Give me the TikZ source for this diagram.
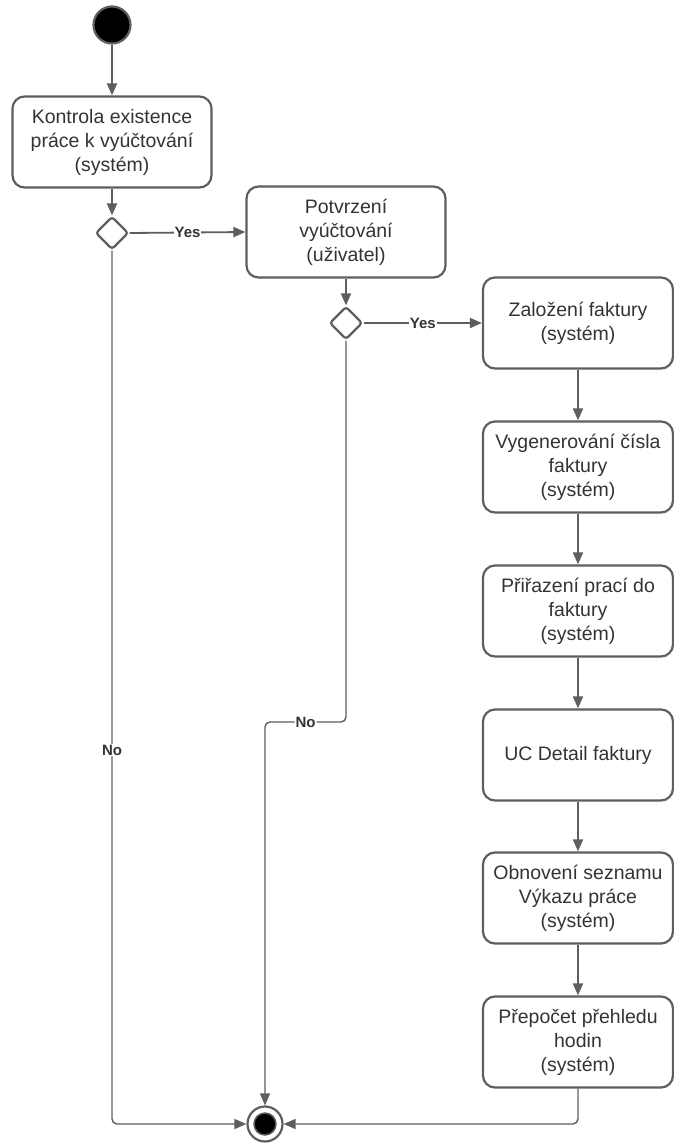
\documentclass[tikz,border=0pt]{standalone}
\usepackage{fontspec}
\setmainfont{Liberation Sans}
\usetikzlibrary{arrows.meta, shapes.geometric}
\definecolor{linegray}{HTML}{5E5E5E}
\definecolor{textgray}{HTML}{333333}
\begin{document}
\begin{tikzpicture}[x=1pt, y=-1pt,
      block/.style = {
        rectangle, draw=linegray, line width=2.2pt, rounded corners=12pt,
        align=center, text=textgray, inner sep=0pt,
        font=\fontsize{19.5}{24}\selectfont,
        minimum width=199pt, minimum height=91pt },
      block-narrow/.style = { block, minimum width=190pt },
      decision/.style = {
        diamond, draw=linegray, line width=2.2pt, rounded corners=3pt,
        fill=white, inner sep=0pt, minimum width=33pt, minimum height=33pt },
      startnode/.style = { circle, draw=linegray, line width=2.2pt,
        fill=black, minimum size=37pt, inner sep=0pt },
      endnode/.style = { circle, draw=linegray, line width=2.2pt,
        fill=white, minimum size=35pt, inner sep=0pt },
      line/.style = { draw=linegray, line width=1.8pt,
        -{Triangle[length=12pt, width=10pt]} },
      line-thin/.style = { line, line width=1.4pt, rounded corners=5pt },
      guard/.style = { fill=white, inner sep=1pt, text=textgray,
        font=\fontsize{15}{17}\selectfont\bfseries }]
    \useasboundingbox (0,0) rectangle (673,1143);
    \node [startnode] (start) at (112, 25) {};
    \node [block] (check) at (112, 142) {Kontrola existence\\ práce k vyúčtování\\ (systém)};
    \node [decision] (dec1) at (112, 233) {};
    \node [block] (confirm) at (346, 232) {Potvrzení\\ vyúčtování\\ (uživatel)};
    \node [decision] (dec2) at (346, 323) {};
    \node [block-narrow] (create) at (578, 323) {Založení faktury\\ (systém)};
    \node [block-narrow] (number) at (578, 467) {Vygenerování čísla\\ faktury\\ (systém)};
    \node [block-narrow] (assign) at (578, 611) {Přiřazení prací do\\ faktury\\ (systém)};
    \node [block-narrow] (detail) at (578, 755) {UC Detail faktury};
    \node [block-narrow] (refresh) at (578, 898) {Obnovení seznamu\\ Výkazu práce\\ (systém)};
    \node [block-narrow] (recount) at (578, 1042) {Přepočet přehledu\\ hodin\\ (systém)};
    \node [endnode] (end) at (265, 1124) {};
    \fill [black, draw=linegray, line width=1.5pt] (end.center) circle (11pt);
    \coordinate (nobend) at (265, 722);
    % connect all nodes defined above
    \draw[line] (start) -- (check);
    \draw[line] (check) -- (dec1);
    \draw[line] (dec1.east) -- node[guard] {Yes} (confirm.west);
    \draw[line] (confirm) -- (dec2);
    \draw[line] (dec2.east) -- node[guard] {Yes} (create.west);
    \draw[line] (create) -- (number);
    \draw[line] (number) -- (assign);
    \draw[line] (assign) -- (detail);
    \draw[line] (detail) -- (refresh);
    \draw[line] (refresh) -- (recount);
    \draw[line-thin] (dec1.south) |- node[guard, pos=0.286] {No} (end.west);
    \draw[line-thin] (dec2.south) |- (nobend) node[guard, pos=0.75] {No} -- (end.north);
    \draw[line-thin] (recount.south) |- (end.east);
  \end{tikzpicture}
\end{document}
